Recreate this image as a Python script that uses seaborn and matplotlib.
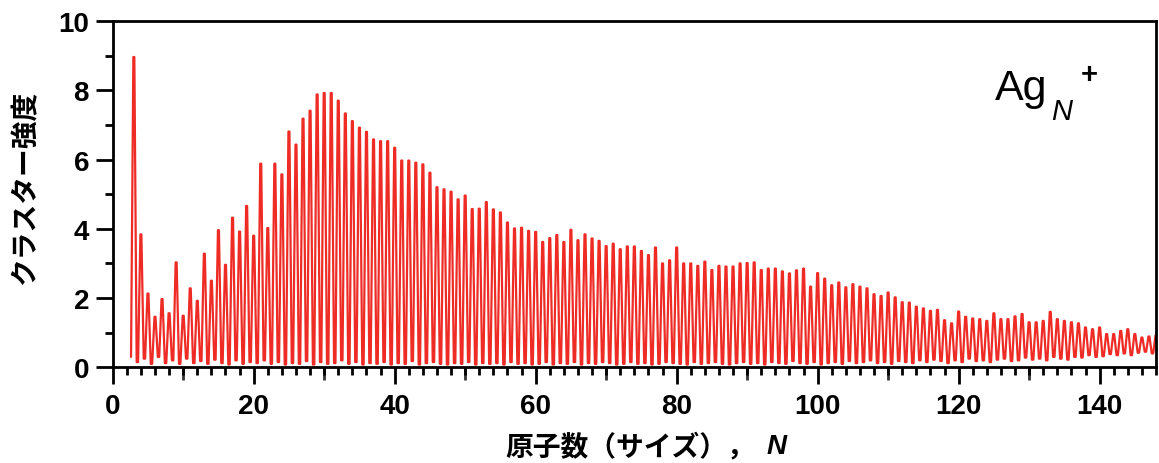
import numpy as np
import pandas as pd
import matplotlib
matplotlib.use("Agg")
import matplotlib.pyplot as plt
import seaborn as sns
from matplotlib.ticker import MultipleLocator, NullLocator

# ---------------- data ----------------
sizes = list(range(3, 149))
peaks = [
    8.96, 3.84, 2.13, 1.46, 1.97, 1.56, 3.03, 1.49, 2.28, 1.92,   # 3-12
    3.28, 2.50, 3.96, 2.96, 4.32, 3.92, 4.66, 3.80, 5.88, 4.02,   # 13-22
    5.88, 5.57, 6.81, 6.43, 7.18, 7.41, 7.88, 7.92, 7.92, 7.70,   # 23-32
    7.33, 7.11, 6.92, 6.80, 6.58, 6.53, 6.53, 6.34, 5.97, 5.97,   # 33-42
    5.91, 5.86, 5.62, 5.20, 5.14, 5.07, 4.85, 4.96, 4.57, 4.58,   # 43-52
    4.77, 4.56, 4.47, 4.18, 4.01, 4.03, 3.94, 3.91, 3.62, 3.73,   # 53-62
    3.82, 3.62, 3.97, 3.67, 3.84, 3.72, 3.65, 3.50, 3.57, 3.41,   # 63-72
    3.49, 3.49, 3.36, 3.24, 3.46, 3.00, 3.09, 3.46, 3.00, 3.00,   # 73-82
    2.93, 3.05, 2.81, 2.93, 2.91, 2.91, 3.00, 3.01, 3.03, 2.81,   # 83-92
    2.85, 2.85, 2.77, 2.71, 2.80, 2.85, 2.33, 2.72, 2.56, 2.37,   # 93-102
    2.45, 2.31, 2.40, 2.33, 2.28, 2.11, 2.06, 2.16, 2.02, 1.88,   # 103-112
    1.87, 1.75, 1.70, 1.63, 1.66, 1.36, 1.27, 1.61, 1.46, 1.41,   # 113-122
    1.39, 1.34, 1.56, 1.39, 1.39, 1.47, 1.54, 1.30, 1.30, 1.34,   # 123-132
    1.60, 1.39, 1.34, 1.30, 1.27, 1.15, 1.10, 1.15, 0.96, 0.96,   # 133-142
    1.05, 1.10, 0.96, 0.86, 0.89, 0.92,                           # 143-148
]
valleys = [
    0.15, 0.25, 0.10, 0.30, 0.12, 0.20, 0.10, 0.25, 0.12, 0.18,
    0.10, 0.22, 0.12, 0.08, 0.20, 0.10, 0.15, 0.12, 0.20, 0.10,
    0.15, 0.08, 0.12, 0.10, 0.18, 0.08, 0.15, 0.10, 0.12, 0.20,
    0.10, 0.15, 0.08, 0.12, 0.10, 0.15, 0.08, 0.12, 0.10, 0.18,
    0.08, 0.12, 0.15, 0.10, 0.08, 0.12, 0.10, 0.15, 0.08, 0.12,
    0.10, 0.12, 0.08, 0.15, 0.10, 0.12, 0.08, 0.10, 0.15, 0.08,
    0.12, 0.10, 0.15, 0.08, 0.12, 0.10, 0.15, 0.12, 0.08, 0.10,
    0.15, 0.10, 0.12, 0.08, 0.10, 0.15, 0.12, 0.10, 0.08, 0.15,
    0.10, 0.12, 0.15, 0.10, 0.08, 0.12, 0.15, 0.10, 0.12, 0.08,
    0.15, 0.12, 0.10, 0.18, 0.12, 0.10, 0.15, 0.08, 0.12, 0.15,
    0.10, 0.18, 0.12, 0.15, 0.20, 0.12, 0.15, 0.10, 0.18, 0.15,
    0.12, 0.20, 0.15, 0.22, 0.18, 0.12, 0.20, 0.15, 0.25, 0.18,
    0.20, 0.15, 0.22, 0.25, 0.18, 0.20, 0.28, 0.22, 0.25, 0.20,
    0.30, 0.25, 0.22, 0.30, 0.28, 0.35, 0.30, 0.32, 0.38, 0.35,
    0.40, 0.35, 0.42, 0.45, 0.40, 0.50,
]
start_level = 0.30
x_ticks_labeled = [0, 20, 40, 60, 80, 100, 120, 140]
x_ticks_mid = [10, 30, 50, 70, 90, 110, 130]

# build the trace: flat-topped spike at each N, low level in between
foot = 0.4
top = 0.07
xs, ys = [], []
prev = start_level
for n, p, v in zip(sizes, peaks, valleys):
    xs += [n - foot, n - top, n + top, n + foot]
    ys += [prev, p, p, v]
    prev = v
df = pd.DataFrame({"N": xs, "I": ys})

# ---------------- style ----------------
sns.set_theme(style="ticks")
plt.rcParams["font.family"] = ["Liberation Sans", "Noto Sans CJK JP", "DejaVu Sans"]
plt.rcParams["text.color"] = "black"
plt.rcParams["xtick.color"] = "black"
plt.rcParams["ytick.color"] = "black"
plt.rcParams["xtick.labelcolor"] = "black"
plt.rcParams["ytick.labelcolor"] = "black"

W, H = 1159, 464
fig = plt.figure(figsize=(W / 100, H / 100), dpi=100)
ax = fig.add_axes([112.7 / W, 1 - 368.3 / H, (1156 - 112.7) / W, (368.3 - 22) / H])

red = "#EE2B25"
sns.lineplot(data=df, x="N", y="I", ax=ax, color=red, lw=1.6,
             sort=False, estimator=None)

ax.set_xlim(0, 148)
ax.set_ylim(0, 10)
ax.set_xlabel("")
ax.set_ylabel("")

for s in ax.spines.values():
    s.set_visible(True)
    s.set_linewidth(2.0)
    s.set_color("black")

ax.set_xticks(x_ticks_labeled)
ax.xaxis.set_minor_locator(MultipleLocator(2))
ax.yaxis.set_major_locator(MultipleLocator(2))
ax.yaxis.set_minor_locator(MultipleLocator(1))
ax.tick_params(axis="x", which="major", length=12.5, width=2.0, pad=6,
               labelsize=20, color="black", labelcolor="black", direction="out")
ax.tick_params(axis="x", which="minor", length=5.8, width=2.0,
               color="black", direction="out")
ax.tick_params(axis="y", which="major", length=12.0, width=2.0, pad=5,
               labelsize=20, color="black", labelcolor="black", direction="out")
ax.tick_params(axis="y", which="minor", length=5.8, width=2.0,
               color="black", direction="out")
ax.tick_params(top=False, right=False, which="both")
for lbl in ax.get_xticklabels() + ax.get_yticklabels():
    lbl.set_fontweight("bold")
    lbl.set_family("Liberation Sans")

sec = ax.secondary_xaxis("bottom")
sec.set_xticks(x_ticks_mid)
sec.xaxis.set_minor_locator(NullLocator())
sec.tick_params(axis="x", length=9.4, width=2.0, color="#333333",
                labelbottom=False)
sec.spines["bottom"].set_visible(False)

# axis labels
fig.text(25 / W, 1 - 188 / H, "クラスター強度", rotation=90, ha="center",
         va="center", fontsize=20, fontweight="bold", color="black",
         family=["Noto Sans CJK JP", "DejaVu Sans"])
fig.text(505 / W, 1 - 447 / H, "原子数（サイズ），", ha="left", va="center",
         fontsize=20, fontweight="bold", color="black",
         family=["Noto Sans CJK JP", "DejaVu Sans"])
fig.text(767 / W, 1 - 447 / H, "N", ha="left", va="center", fontsize=20,
         fontweight="bold", fontstyle="italic", color="black",
         family="Liberation Sans")

# species label
fig.text(995 / W, 1 - 100 / H, "Ag", ha="left", va="baseline", fontsize=31,
         fontweight="normal", color="black", family="Liberation Sans")
fig.text(1051 / W, 1 - 120 / H, "N", ha="left", va="baseline", fontsize=21,
         fontweight="normal", fontstyle="italic", color="black",
         family="Liberation Sans")
fig.text(1089 / W, 1 - 75 / H, "+", ha="center", va="center", fontsize=21,
         fontweight="bold", color="black", family="Liberation Sans")

fig.savefig("out.png", dpi=100)
